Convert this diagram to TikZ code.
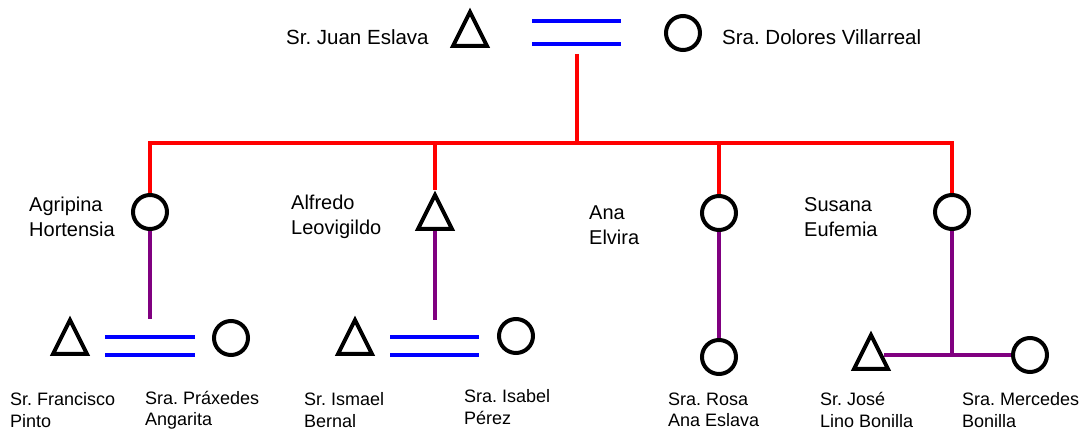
\documentclass[tikz,border=0pt]{standalone}
\usepackage{fontspec}
\setmainfont{Liberation Sans}
\usetikzlibrary{shapes.geometric}
\definecolor{kidpurple}{RGB}{128,0,128}
\frenchspacing
\begin{document}
\begin{tikzpicture}[x=1pt,y=-1pt,
  fem/.style={circle,draw=black,line width=4pt,minimum size=34pt,inner sep=0pt},
  mal/.style={isosceles triangle,shape border rotate=90,isosceles triangle stretches,draw=black,line width=4pt,minimum width=34pt,minimum height=34pt,inner sep=0pt,line join=miter,anchor=south},
  marr/.style={blue,line width=4pt},
  desc/.style={red,line width=4pt},
  kid/.style={kidpurple,line width=4pt},
  tlbl/.style={anchor=west,align=left,inner sep=0pt,font=\fontsize{20.5}{24.5}\selectfont},
  lbl/.style={anchor=west,align=left,inner sep=0pt,font=\fontsize{20}{24.5}\selectfont},
  slbl/.style={anchor=west,align=left,inner sep=0pt,font=\fontsize{18}{21.5}\selectfont}]
\useasboundingbox (0,0) rectangle (1090,433);

% generation 1
\node[mal] (juan) at (470,48) {};
\node[fem] (dolores) at (683,33) {};
\node[tlbl] (tjuan) at (286,37) {Sr. Juan Eslava};
\node[tlbl] (tdol) at (722,37) {Sra. Dolores Villarreal};
\coordinate (m1a) at (532,21.5); \coordinate (m1b) at (621,21.5);
\coordinate (m1c) at (532,44.5); \coordinate (m1d) at (621,44.5);
\draw[marr] (m1a) -- (m1b);
\draw[marr] (m1c) -- (m1d);
\coordinate (m1) at (577,54);
\coordinate (bar) at (577,143);

% generation 2
\node[fem] (agr) at (150,212) {};
\node[mal] (alf) at (435,231) {};
\node[fem] (ana) at (719,213) {};
\node[fem] (sus) at (952,212) {};
\node[lbl] (tagr) at (29,217) {Agripina\\Hortensia};
\node[lbl] (talf) at (291,217) {Alfredo\\Leovigildo};
\node[lbl] (tana) at (589,225) {Ana\\Elvira};
\node[lbl] (tsus) at (804,217) {Susana\\Eufemia};

\draw[desc] (m1) -- (bar);
\draw[desc] (agr.north) |- (bar) -| (sus.north);
\draw[desc] (alf.north) -- (alf.north |- bar);
\draw[desc] (ana.north) -- (ana.north |- bar);

% generation 3
\node[mal] (fran) at (70,356) {};
\node[fem] (prax) at (231,338) {};
\coordinate (m2a) at (105,337); \coordinate (m2b) at (195,337);
\coordinate (m2c) at (105,355); \coordinate (m2d) at (195,355);
\draw[marr] (m2a) -- (m2b);
\draw[marr] (m2c) -- (m2d);
\coordinate (m2) at (150,319);

\node[mal] (ism) at (355,356) {};
\node[fem] (isa) at (516,336) {};
\coordinate (m3a) at (390,337); \coordinate (m3b) at (479,337);
\coordinate (m3c) at (390,355); \coordinate (m3d) at (479,355);
\draw[marr] (m3a) -- (m3b);
\draw[marr] (m3c) -- (m3d);
\coordinate (m3) at (435,320);

\node[fem] (rosa) at (719,357) {};
\node[mal] (jose) at (871,371) {};
\node[fem] (merc) at (1030,355) {};
\coordinate (jr) at (884,355);
\coordinate (sj) at (952,355);

\draw[kid] (agr.south) -- (m2);
\draw[kid] (alf.south) -- (m3);
\draw[kid] (ana.south) -- (rosa.north);
\draw[kid] (sus.south) -- (sj);
\draw[kid] (jr) -- (merc.west);

\node[slbl] (tfran) at (10,410) {Sr. Francisco\\Pinto};
\node[slbl] (tprax) at (145,410) {Sra. Práxedes\\Angarita};
\node[slbl] (tism) at (304,410) {Sr. Ismael\\Bernal};
\node[slbl] (tisa) at (464,407) {Sra. Isabel\\Pérez};
\node[slbl] (trosa) at (668,410) {Sra. Rosa\\Ana Eslava};
\node[slbl] (tjose) at (820,410) {Sr. José\\Lino Bonilla};
\node[slbl] (tmerc) at (962,410) {Sra. Mercedes\\Bonilla};
\end{tikzpicture}
\end{document}
